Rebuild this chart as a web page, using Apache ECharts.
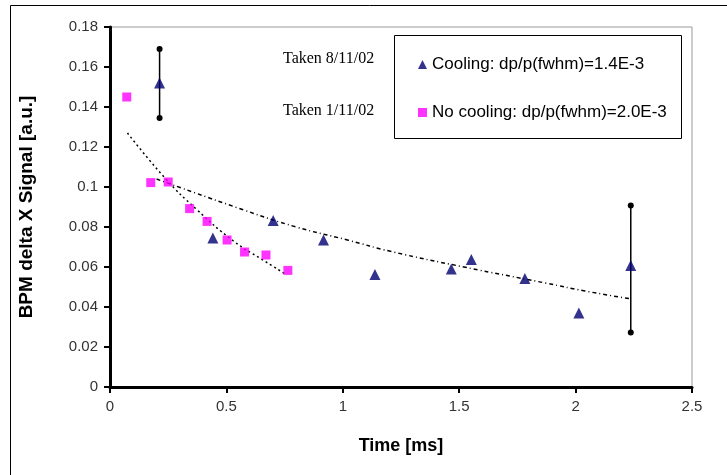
<!DOCTYPE html>
<html lang="en">
<head>
  <meta charset="UTF-8">
  <title>BPM delta X Signal</title>
  <style>
    html,body{margin:0;padding:0;background:#fff;}
    #main{width:727px;height:475px;}
  </style>
</head>
<body>
  <div id="main"></div>
  <script src="https://cdn.jsdelivr.net/npm/echarts@6/dist/echarts.min.js"></script>
  <script>
    const chart=echarts.init(document.querySelector('#main'));

    // Cooling (taken 8/11/02)
    const coolX=[0.213,0.442,0.701,0.917,1.138,1.466,1.552,1.782,2.014,2.237];
    const coolY=[0.152,0.0745,0.0833,0.0735,0.0563,0.059,0.0638,0.0542,0.037,0.0608];
    // No cooling (taken 1/11/02)
    const noCoolX=[0.072,0.175,0.25,0.342,0.417,0.503,0.578,0.67,0.764];
    const noCoolY=[0.145,0.1022,0.1025,0.0892,0.0828,0.0735,0.0675,0.066,0.0583];
    // error bars on first and last cooling points
    const errX=[0.213,2.237];
    const errLow=[0.1345,0.0272];
    const errHigh=[0.169,0.0907];
    // trend lines
    const coolTrendX=[0.2,0.575,0.8,1.02,1.21,1.52,1.87,2.04,2.24];
    const coolTrendY=[0.104,0.0885,0.080,0.0735,0.0677,0.060,0.052,0.048,0.044];
    const noCoolTrendX=[0.075,0.24,0.37,0.53,0.65,0.76];
    const noCoolTrendY=[0.127,0.104,0.089,0.073,0.064,0.056];

    const xTicks=[0,0.5,1,1.5,2,2.5];
    const yTicks=[0,0.02,0.04,0.06,0.08,0.1,0.12,0.14,0.16,0.18];

    const names=['Cooling: dp/p(fwhm)=1.4E-3','No cooling: dp/p(fwhm)=2.0E-3'];
    const zip=(a,b)=>a.map((v,i)=>[v,b[i]]);

    const sans='"Liberation Sans", Arial, sans-serif';
    const serif='"Liberation Serif", "Times New Roman", serif';

    const series=[
      {
        name:names[0],
        type:'scatter',
        symbol:'triangle',
        symbolSize:11,
        itemStyle:{color:'#000070'},
        data:zip(coolX,coolY),
        z:5
      },
      {
        name:names[1],
        type:'scatter',
        symbol:'rect',
        symbolSize:9,
        itemStyle:{color:'#ff00ff'},
        data:zip(noCoolX,noCoolY),
        z:5
      },
      {
        type:'line',
        data:zip(coolTrendX,coolTrendY),
        smooth:true,
        showSymbol:false,
        lineStyle:{color:'#000',width:1.5,type:[4,3,1,3]},
        silent:true
      },
      {
        type:'line',
        data:zip(noCoolTrendX,noCoolTrendY),
        smooth:true,
        showSymbol:false,
        lineStyle:{color:'#000',width:1.5,type:[2,3]},
        silent:true
      }
    ];
    errX.forEach((x,i)=>{
      series.push({
        type:'line',
        data:[[x,errLow[i]],[x,errHigh[i]]],
        symbol:'circle',
        symbolSize:6,
        itemStyle:{color:'#000'},
        lineStyle:{color:'#000',width:1.5},
        silent:true,
        z:4
      });
    });

    const option={
      animation:false,
      grid:{
        left:110,top:27,right:35,bottom:88,
        show:true,borderColor:'#999',borderWidth:1,backgroundColor:'transparent'
      },
      legend:{
        data:names,
        orient:'vertical',
        left:413,
        top:51,
        itemGap:31,
        itemWidth:9,
        itemHeight:9,
        textStyle:{fontFamily:sans,fontSize:17,color:'#000',lineHeight:17}
      },
      xAxis:{
        type:'value',
        min:xTicks[0],
        max:xTicks[xTicks.length-1],
        interval:0.5,
        name:'Time [ms]',
        nameLocation:'middle',
        nameGap:50,
        nameTextStyle:{fontFamily:sans,fontSize:18,fontWeight:'bold',color:'#000'},
        axisLine:{onZero:false,lineStyle:{color:'#000',width:3}},
        axisTick:{inside:false,length:6,lineStyle:{width:2,color:'#000'}},
        axisLabel:{fontFamily:sans,fontSize:15,color:'#333',margin:12},
        splitLine:{show:false}
      },
      yAxis:{
        type:'value',
        min:yTicks[0],
        max:yTicks[yTicks.length-1],
        interval:0.02,
        name:'BPM delta X Signal [a.u.]',
        nameLocation:'middle',
        nameGap:74,
        nameTextStyle:{fontFamily:sans,fontSize:19,fontWeight:'bold',color:'#000'},
        axisLine:{show:true,onZero:false,lineStyle:{color:'#000',width:3}},
        axisTick:{show:true,inside:false,length:6,lineStyle:{width:2,color:'#000'}},
        axisLabel:{fontFamily:sans,fontSize:15,color:'#333',margin:12,
          formatter:v=>String(+v.toFixed(2))},
        splitLine:{show:false}
      },
      graphic:[
        {
          type:'rect',
          shape:{x:10.5,y:5.5,width:800,height:600},
          style:{fill:'none',stroke:'#000',lineWidth:1},
          z:-10
        },
        {
          type:'rect',
          shape:{x:394.5,y:35.5,width:287,height:103},
          style:{fill:'#fff',stroke:'#000',lineWidth:1},
          z:-1
        },
        {
          type:'text',
          left:283,top:51,
          style:{text:'Taken 8/11/02',fontFamily:serif,fontSize:16,fill:'#000'}
        },
        {
          type:'text',
          left:283,top:103,
          style:{text:'Taken 1/11/02',fontFamily:serif,fontSize:16,fill:'#000'}
        }
      ],
      series:series
    };
    chart.setOption(option);
  </script>
</body>
</html>
